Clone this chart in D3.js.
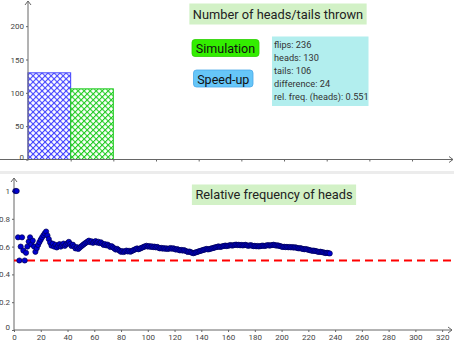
<!DOCTYPE html>
<html><head><meta charset="utf-8">
<script src="https://cdn.jsdelivr.net/npm/d3@7"></script>
<style>
body{margin:0;background:#fff;overflow:hidden}
svg{display:block}
text{font-family:Roboto,'Noto Sans',sans-serif}
</style>
</head><body><svg id="c" width="454" height="344"></svg>
<script>
// ---------- data ----------
const categories = ["heads", "tails"];
// sequence of flips (H = heads, T = tails)
const flipSegments = [
  "HHTTHHTTHHHHTHTTHHHHHHHH", // 1-24
  "TTTT", "HT", "HTHHT", "HHTHH", "H", "TTHTTHT", "HHHHHHH",
  "HTHTHHTH", "THTTH", "THTTHT", "TTHTTT", "HTHHTHTHH", "HHHTHHHHH",
  "HTHTHTH", "THTTHTHT", "HTHHTHT", "THTTHTHT", "TTHTTT", "HHHHHHH",
  "HHHTHHHHHH", "HHTHHHHTHHHTHHH", "THTHTHHTTH", "HTTHTHTH", "HHTHHHTHHH",
  "TTHTTTT", "HTHTHTHTHT", "TTHTTTHTTT", "TTHTTTTHTTTTHTT"
];
const barTicks = [0, 50, 100, 150, 200];
const topXTicks = [1, 2, 3, 4, 5, 6, 7, 8, 9];
const freqTicks = [0, 0.2, 0.4, 0.6, 0.8, 1];
const flipTicks = [0, 20, 40, 60, 80, 100, 120, 140, 160, 180, 200, 220, 240, 260, 280, 300, 320];
const referenceLevel = [0.5];
const topTitle = "Number of heads/tails thrown";
const bottomTitle = "Relative frequency of heads";
const buttonLabels = ["Simulation", "Speed-up"];

// ---------- derived ----------
const flips = flipSegments.join("").split("");
let hc = 0;
const relFreq = flips.map((f, i) => { if (f === "H") hc++; return { n: i + 1, p: hc / (i + 1) }; });
const nHeads = hc, nFlips = flips.length, nTails = nFlips - nHeads;
const counts = [nHeads, nTails];

const svg = d3.select("#c");
const defs = svg.append("defs");
function hatch(id, color) {
  const p = defs.append("pattern").attr("id", id).attr("patternUnits", "userSpaceOnUse")
    .attr("width", 4.25).attr("height", 4.25).attr("patternTransform", "rotate(45)");
  p.append("rect").attr("width", 4.25).attr("height", 4.25).attr("fill", "#fff");
  p.append("path").attr("d", "M0,0H4.25M0,0V4.25").attr("stroke", color).attr("stroke-width", 2.2);
}
hatch("hb", "#4040ff");
hatch("hg", "#22cc22");
const barColors = ["#4040ff", "#22cc22"];

const axisColor = "#666";
const labelColor = "#444";

// ---------- top panel ----------
const xTop = d3.scaleLinear().domain([0, 10]).range([28, 454.7]);
const yTop = d3.scaleLinear().domain([0, 240]).range([159.5, -0.5]);

const gTop = svg.append("g");
gTop.selectAll("rect.bar").data(counts).join("rect").attr("class", "bar")
  .attr("x", (d, i) => xTop(i)).attr("width", xTop(1) - xTop(0))
  .attr("y", d => yTop(d)).attr("height", d => yTop(0) - yTop(d))
  .attr("fill", (d, i) => i === 0 ? "url(#hb)" : "url(#hg)")
  .attr("stroke", (d, i) => barColors[i]).attr("stroke-width", 1);

gTop.append("line").attr("x1", 0).attr("x2", 453).attr("y1", yTop(0)).attr("y2", yTop(0))
  .attr("stroke", axisColor).attr("stroke-width", 1);
gTop.append("path").attr("d", `M449,${yTop(0) - 3}L453,${yTop(0)}L449,${yTop(0) + 3}`)
  .attr("fill", "none").attr("stroke", axisColor);
const gxTop = gTop.append("g").attr("transform", `translate(0,${yTop(0)})`)
  .call(d3.axisBottom(xTop).tickValues(topXTicks).tickSize(2).tickFormat(""));
gxTop.select(".domain").remove();
gxTop.selectAll("line").attr("stroke", axisColor);

gTop.append("line").attr("x1", xTop(0)).attr("x2", xTop(0)).attr("y1", yTop(0) + 1).attr("y2", 1)
  .attr("stroke", axisColor);
gTop.append("path").attr("d", `M${xTop(0) - 3},5L${xTop(0)},1L${xTop(0) + 3},5`).attr("fill", "none").attr("stroke", axisColor);
const gyTop = gTop.append("g").attr("transform", `translate(${xTop(0)},0)`)
  .call(d3.axisLeft(yTop).tickValues(barTicks).tickSize(2).tickPadding(2));
gyTop.select(".domain").remove();
gyTop.selectAll("line").attr("stroke", axisColor);
gyTop.selectAll("text").attr("fill", labelColor).attr("font-size", 8).attr("font-family", "Roboto,'Noto Sans',sans-serif");
gyTop.selectAll(".tick").filter(d => d === 0).select("text").attr("dy", "-0.05em");

function labelBox(g, txt, cx, y0, h, fs, fill) {
  const t = g.append("text").attr("x", cx).attr("y", y0 + h / 2).attr("text-anchor", "middle")
    .attr("dominant-baseline", "central").attr("font-size", fs).attr("fill", "#222").text(txt);
  const w = t.node().getComputedTextLength() + 7;
  g.insert("rect", "text").attr("x", cx - w / 2).attr("y", y0).attr("width", w).attr("height", h).attr("fill", fill);
}
labelBox(svg.append("g"), topTitle, 278, 3.5, 21, 12.8, "#d2f1c6");

const btns = [
  { x: 192, y: 39.5, w: 67, h: 17, fill: "#33ee00", stroke: "#2bd000" },
  { x: 193.5, y: 70, w: 59.5, h: 17, fill: "#66c6f8", stroke: "#4aa8e8" }
];
btns.forEach((b, i) => {
  svg.append("rect").attr("x", b.x).attr("y", b.y).attr("width", b.w).attr("height", b.h)
    .attr("rx", 3).attr("fill", b.fill).attr("stroke", b.stroke).attr("stroke-width", 0.8);
  svg.append("text").attr("x", b.x + b.w / 2).attr("y", b.y + b.h / 2 + 0.5).attr("text-anchor", "middle")
    .attr("dominant-baseline", "central").attr("font-size", 12.5).attr("fill", "#111").text(buttonLabels[i]);
});

const infoLines = [
  "flips: " + nFlips,
  "heads: " + nHeads,
  "tails: " + nTails,
  "difference: " + Math.abs(nHeads - nTails),
  "rel. freq. (heads): " + (nHeads / nFlips).toFixed(3)
];
svg.append("rect").attr("x", 272).attr("y", 36.5).attr("width", 96.5).attr("height", 69.5).attr("fill", "#b2eeee");
svg.selectAll("text.info").data(infoLines).join("text").attr("class", "info")
  .attr("x", 274).attr("y", (d, i) => 47.5 + i * 13).attr("font-size", 9.2).attr("fill", "#333").text(d => d);

svg.append("rect").attr("x", 0).attr("y", 171).attr("width", 454).attr("height", 3).attr("fill", "#ececec");

// ---------- bottom panel ----------
const xBot = d3.scaleLinear().domain([0, 327]).range([14, 451.5]);
const yBot = d3.scaleLinear().domain([0, 1]).range([330, 191]);
const bot = svg.append("g");

labelBox(bot, bottomTitle, 274, 184.5, 20.5, 12.8, "#d2f1c6");

bot.append("line").attr("x1", xBot(0)).attr("x2", 452).attr("y1", yBot(0)).attr("y2", yBot(0)).attr("stroke", axisColor);
bot.append("path").attr("d", `M448,${yBot(0) - 3}L452,${yBot(0)}L448,${yBot(0) + 3}`).attr("fill", "none").attr("stroke", axisColor);
bot.append("line").attr("x1", xBot(0)).attr("x2", xBot(0)).attr("y1", yBot(0)).attr("y2", 178).attr("stroke", axisColor);
bot.append("path").attr("d", `M${xBot(0) - 3},182L${xBot(0)},178L${xBot(0) + 3},182`).attr("fill", "none").attr("stroke", axisColor);

const gxb = bot.append("g").attr("transform", `translate(0,${yBot(0)})`)
  .call(d3.axisBottom(xBot).tickValues(flipTicks).tickSize(2).tickPadding(2));
gxb.select(".domain").remove();
gxb.selectAll("line").attr("stroke", axisColor);
gxb.selectAll("text").attr("fill", labelColor).attr("font-size", 8).attr("font-family", "Roboto,'Noto Sans',sans-serif");

const gyb = bot.append("g").attr("transform", `translate(${xBot(0)},0)`)
  .call(d3.axisLeft(yBot).tickValues(freqTicks).tickSize(2).tickPadding(2).tickFormat(d3.format("")));
gyb.select(".domain").remove();
gyb.selectAll("line").attr("stroke", axisColor);
gyb.selectAll("text").attr("fill", labelColor).attr("font-size", 8).attr("font-family", "Roboto,'Noto Sans',sans-serif");
gyb.selectAll(".tick").filter(d => d === 0).select("text").attr("dy", "-0.1em");

bot.selectAll("line.ref").data(referenceLevel).join("line").attr("class", "ref")
  .attr("x1", xBot(0)).attr("x2", 454).attr("y1", d => yBot(d)).attr("y2", d => yBot(d))
  .attr("stroke", "#ff0000").attr("stroke-width", 2).attr("stroke-dasharray", "8,5");

bot.selectAll("circle.pt").data(relFreq).join("circle").attr("class", "pt")
  .attr("cx", d => xBot(d.n)).attr("cy", d => yBot(d.p)).attr("r", 2.6)
  .attr("fill", "#0000d0").attr("stroke", "#000050").attr("stroke-width", 0.7);
</script>
</body></html>
